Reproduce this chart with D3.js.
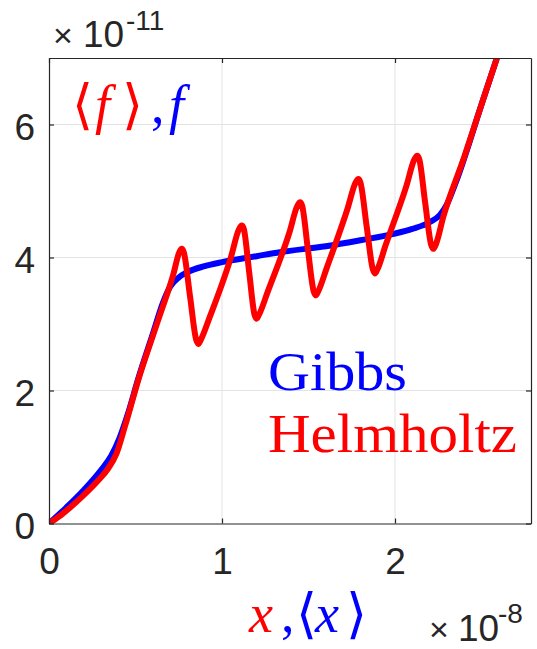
<!DOCTYPE html>
<html><head><meta charset="utf-8">
<script src="https://cdn.jsdelivr.net/npm/d3@7"></script>
<style>
html,body{margin:0;padding:0;background:#fff;}
svg{display:block;}
</style></head>
<body>
<svg id="chart" width="537" height="649"></svg>
<script>
// x in units of 1e-8, f in units of 1e-11
const gibbsX = [0,0.1,0.2,0.3,0.36,0.41,0.46,0.515,0.6,0.66,0.7,0.75,0.8,0.9,1.0,1.2,1.335,1.6,1.8,2.0,2.1,2.2,2.26,2.3,2.35,2.5,2.65];
const gibbsF = [0,0.24,0.5,0.8,1.02,1.3,1.68,2.17,2.85,3.33,3.56,3.7,3.78,3.87,3.93,4.02,4.08,4.17,4.26,4.36,4.43,4.53,4.64,4.8,5.12,6.3,7.48];
const helmX = [0,0.08,0.19,0.285,0.34,0.39,0.44,0.515,0.63,0.72,0.752,0.767,0.779,
  0.815,0.851,0.863,0.877,0.93,1.05,1.099,1.114,1.126,
  1.157,1.188,1.200,1.214,1.265,1.39,1.436,1.451,1.463,
  1.496,1.530,1.542,1.556,1.605,1.725,1.773,1.788,1.800,
  1.836,1.872,1.884,1.898,1.945,2.065,2.113,2.128,2.140,
  2.174,2.209,2.221,2.235,2.28,2.4,2.5,2.65];
const helmF = [0,0.15,0.4,0.65,0.82,1.05,1.47,2.15,3.05,3.76,4.07,4.13,4.08,
  3.42,2.76,2.70,2.76,3.11,3.99,4.43,4.48,4.43,
  3.78,3.14,3.08,3.14,3.49,4.38,4.78,4.83,4.78,
  4.13,3.49,3.43,3.49,3.84,4.73,5.13,5.18,5.13,
  4.47,3.82,3.76,3.82,4.18,5.07,5.48,5.53,5.48,
  4.83,4.19,4.13,4.19,4.62,5.51,6.3,7.48];
const xTicks = [0,1,2];
const yTicks = [0,2,4,6];
const xDomain = [0,2.786];
const yDomain = [0,7];

const svg = d3.select('#chart');
const L=49, R=531, T=58, B=523.5;
const x = d3.scaleLinear().domain(xDomain).range([L,R]);
const y = d3.scaleLinear().domain(yDomain).range([B,T]);
const axisCol = '#262626', gridCol = '#e3e3e3';
const sans = "'Liberation Sans', Arial, Helvetica, sans-serif";
const serif = "'Liberation Serif', 'DejaVu Serif', serif";
const brk = "'DejaVu Serif', serif";

// grid
svg.append('g').selectAll('line').data(xTicks.filter(d=>d>0)).join('line')
  .attr('x1',d=>x(d)).attr('x2',d=>x(d)).attr('y1',T).attr('y2',B)
  .attr('stroke',gridCol).attr('stroke-width',1);
svg.append('g').selectAll('line').data(yTicks.filter(d=>d>0)).join('line')
  .attr('y1',d=>y(d)).attr('y2',d=>y(d)).attr('x1',L).attr('x2',R)
  .attr('stroke',gridCol).attr('stroke-width',1);

// clip
svg.append('clipPath').attr('id','clip').append('rect')
  .attr('x',L).attr('y',T).attr('width',R-L).attr('height',B-T);

const line = d3.line().x(d=>x(d[0])).y(d=>y(d[1])).curve(d3.curveMonotoneX);
const gibbs = gibbsX.map((v,i)=>[v,gibbsF[i]]);
const helm = helmX.map((v,i)=>[v,helmF[i]]);
const plot = svg.append('g').attr('clip-path','url(#clip)');
plot.append('path').attr('d',line(gibbs)).attr('fill','none')
  .attr('stroke','#0000ff').attr('stroke-width',6).attr('stroke-linejoin','round');
plot.append('path').attr('d',line(helm)).attr('fill','none')
  .attr('stroke','#ff0000').attr('stroke-width',6).attr('stroke-linejoin','round');

// axes (box with inward ticks)
const tl = 5;
const gB = svg.append('g').attr('transform',`translate(0,${B})`)
  .call(d3.axisBottom(x).tickValues(xTicks).tickSizeInner(-tl).tickSizeOuter(0).tickFormat(d3.format('d')).tickPadding(24));
const gT = svg.append('g').attr('transform',`translate(0,${T})`)
  .call(d3.axisTop(x).tickValues(xTicks).tickSizeInner(-tl).tickSizeOuter(0).tickFormat(''));
const gL = svg.append('g').attr('transform',`translate(${L},0)`)
  .call(d3.axisLeft(y).tickValues(yTicks).tickSizeInner(-tl).tickSizeOuter(0).tickFormat(d3.format('d')).tickPadding(14));
const gR = svg.append('g').attr('transform',`translate(${R},0)`)
  .call(d3.axisRight(y).tickValues(yTicks).tickSizeInner(-tl).tickSizeOuter(0).tickFormat(''));
[gB,gT,gL,gR].forEach(g=>{
  g.selectAll('.domain').attr('stroke',axisCol).attr('stroke-width',1.2);
  g.selectAll('.tick line').attr('stroke',axisCol).attr('stroke-width',1.2);
  g.selectAll('.tick text').attr('fill',axisCol).attr('font-family',sans).attr('font-size',37);
});
gL.selectAll('.tick text').attr('dy','0.4em');
gB.selectAll('.tick text').attr('dy','0.71em');

// exponent labels
const e1 = svg.append('text').attr('y',47).attr('font-family',sans).attr('fill',axisCol).attr('font-size',37);
e1.append('tspan').attr('x',53).attr('font-size',34).text('×');
e1.append('tspan').attr('x',83).text('10');
e1.append('tspan').attr('x',126).attr('font-size',28).attr('y',30).text('-11');
const e2 = svg.append('text').attr('y',641).attr('font-family',sans).attr('fill',axisCol).attr('font-size',37);
e2.append('tspan').attr('x',429).attr('font-size',34).text('×');
e2.append('tspan').attr('x',458).text('10');
e2.append('tspan').attr('x',498).attr('font-size',28).attr('y',623).text('-8');

// y label (math)
const yl = svg.append('text').attr('y',123).attr('font-family',serif).attr('font-size',54);
yl.append('tspan').attr('x',72).attr('fill','#ff0000').attr('font-family',brk).text('⟨');
yl.append('tspan').attr('x',95).attr('fill','#ff0000').attr('font-style','italic').text('f');
yl.append('tspan').attr('x',122).attr('fill','#ff0000').attr('font-family',brk).text('⟩');
yl.append('tspan').attr('x',151).attr('fill','#0000ff').text(',');
yl.append('tspan').attr('x',169).attr('fill','#0000ff').attr('font-style','italic').text('f');

// x label (math)
const xl = svg.append('text').attr('y',632).attr('font-family',serif).attr('font-size',54);
xl.append('tspan').attr('x',249).attr('fill','#ff0000').attr('font-style','italic').text('x');
xl.append('tspan').attr('x',281).attr('fill','#0000ff').text(',');
xl.append('tspan').attr('x',296).attr('fill','#0000ff').attr('font-family',brk).text('⟨');
xl.append('tspan').attr('x',315).attr('fill','#0000ff').attr('font-style','italic').text('x');
xl.append('tspan').attr('x',346).attr('fill','#0000ff').attr('font-family',brk).text('⟩');

// legend text
const legendNames = ['Gibbs','Helmholtz'];
const legendColors = ['#0000ff','#ff0000'];
const legendWidths = [139,249];
svg.append('g').selectAll('text').data(legendNames).join('text')
  .attr('x',268).attr('y',(d,i)=>390+i*62)
  .attr('font-family',serif).attr('font-size',54)
  .attr('fill',(d,i)=>legendColors[i])
  .attr('textLength',(d,i)=>legendWidths[i]).attr('lengthAdjust','spacingAndGlyphs')
  .text(d=>d);
</script>
</body></html>
